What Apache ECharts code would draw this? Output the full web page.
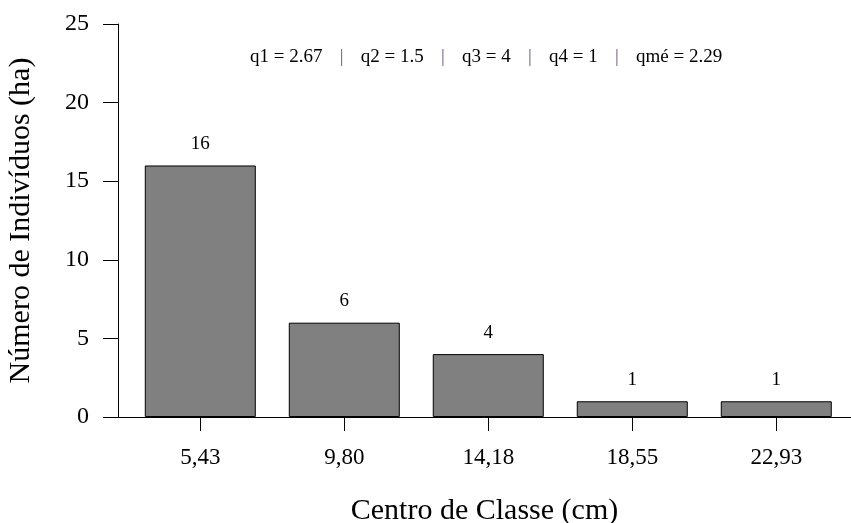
<!DOCTYPE html>
<html>
<head>
<meta charset="utf-8">
<script src="https://cdn.jsdelivr.net/npm/echarts@6/dist/echarts.min.js"></script>
<style>html,body{margin:0;padding:0;background:#fff}#c{width:851px;height:523px}</style>
</head>
<body>
<div id="c"></div>
<script>
const categories = ['5,43', '9,80', '14,18', '18,55', '22,93'];
const values = [16, 6, 4, 1, 1];
const yTicks = [0, 5, 10, 15, 20, 25];
const noteParts = ['q1 = 2.67', 'q2 = 1.5', 'q3 = 4', 'q4 = 1', 'qmé = 2.29'];

const FONT = '"Liberation Serif", "Times New Roman", serif';
const chart = echarts.init(document.getElementById('c'), null, {renderer: 'canvas'});
const idx = categories.map((_, i) => i);
chart.setOption({
  animation: false,
  backgroundColor: '#fff',
  title: {
    text: noteParts.join('   {p||}   '),
    left: 245, top: 43,
    textStyle: {
      fontFamily: FONT, fontSize: 19, fontWeight: 'normal', color: '#000',
      rich: { p: { fontFamily: FONT, fontSize: 19, color: '#6b5a78', padding: [0, 3] } }
    }
  },
  grid: { left: 118, right: 0, top: 24, bottom: 106, containLabel: false, outerBoundsMode: 'none' },
  xAxis: {
    type: 'value',
    min: -0.5715, max: 4.519,
    name: 'Centro de Classe (cm)',
    nameLocation: 'middle', nameGap: 79,
    nameTextStyle: { fontFamily: FONT, fontSize: 30, color: '#000' },
    axisLine: { show: true, onZero: false, lineStyle: { color: '#000', width: 1 } },
    axisTick: { show: true, length: 14, customValues: idx, lineStyle: { color: '#000' } },
    axisLabel: {
      customValues: idx, margin: 29,
      fontFamily: FONT, fontSize: 23, color: '#000',
      formatter: v => categories[Math.round(v)]
    },
    splitLine: { show: false }
  },
  yAxis: {
    type: 'value', min: 0, max: 25, interval: 5,
    name: 'Número de Indivíduos (ha)',
    nameLocation: 'middle', nameGap: 82,
    nameTextStyle: { fontFamily: FONT, fontSize: 30, color: '#000' },
    axisLine: { show: true, onZero: false, lineStyle: { color: '#000', width: 1 } },
    axisTick: { show: true, length: 15, lineStyle: { color: '#000' } },
    axisLabel: {
      margin: 29, fontFamily: FONT, fontSize: 24, color: '#000',
      formatter: v => yTicks.includes(v) ? String(v) : ''
    },
    splitLine: { show: false }
  },
  series: [{
    type: 'bar',
    data: values.map((v, i) => [i, v]),
    barWidth: 111,
    itemStyle: { color: '#808080', borderColor: '#000', borderWidth: 1 },
    label: {
      show: true, position: 'top', distance: 12,
      fontFamily: FONT, fontSize: 19, color: '#000',
      formatter: p => String(p.value[1])
    }
  }]
});
</script>
</body>
</html>
